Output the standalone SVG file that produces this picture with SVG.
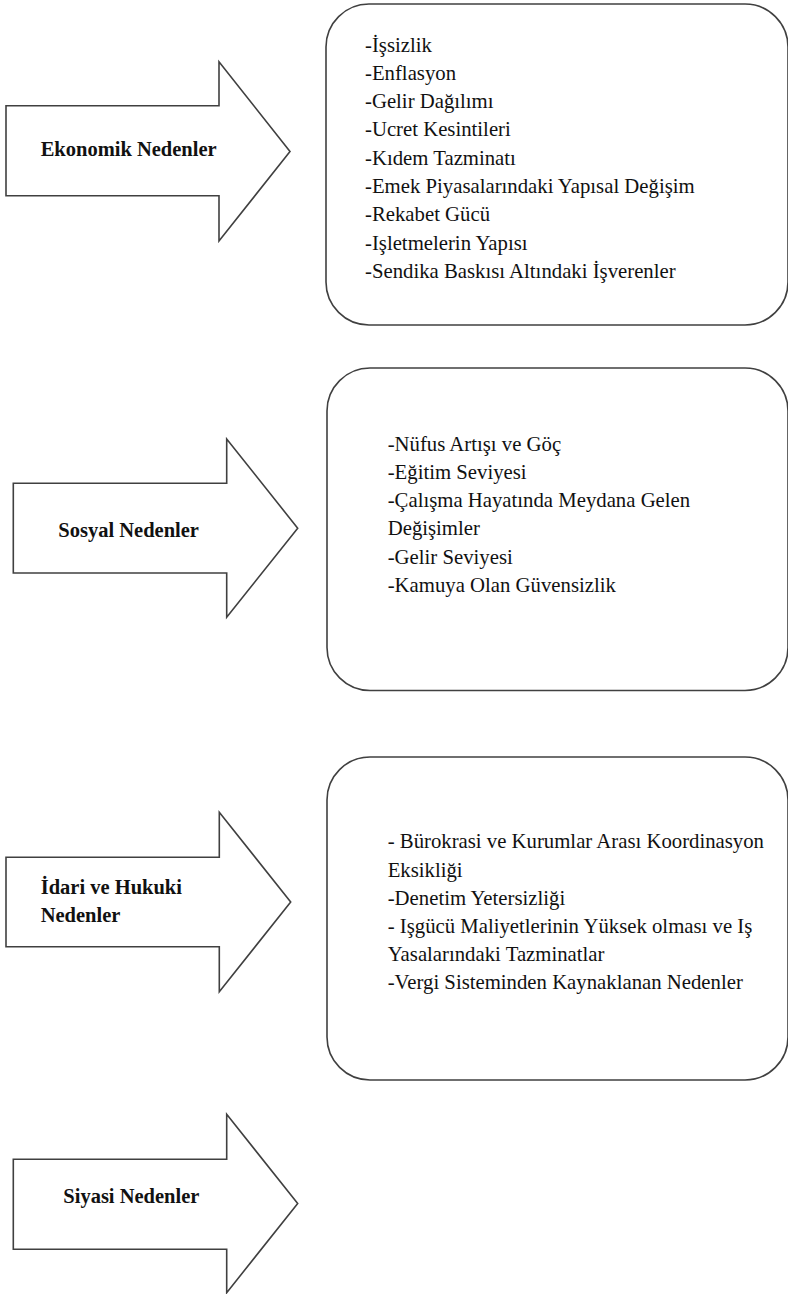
<svg xmlns="http://www.w3.org/2000/svg" width="788" height="1294" viewBox="0 0 788 1294">
<style>
.shape{fill:#fff;stroke:#404040;stroke-width:1.6;stroke-linejoin:miter}
.box{fill:#fff;stroke:#404040;stroke-width:1.6}
.lbl{font-family:'Liberation Serif','DejaVu Serif',serif;font-size:20.5px;font-weight:bold;fill:#111}
.item{font-family:'Liberation Serif','DejaVu Serif',serif;font-size:20.75px;fill:#111}
</style>
<rect width="788" height="1294" fill="#fff"/>
<g id="connectors"/>
<g id="arrow-ekonomik">
<path class="shape" d="M6,105.7 H219 V61.7 L290,151.5 L219,241 V195.7 H6 Z"/>
<text class="lbl" x="40.7" y="156">Ekonomik Nedenler</text>
</g>
<g id="box-ekonomik">
<rect class="box" x="326" y="4" width="462" height="321" rx="43" ry="43"/>
<text class="item" x="365" y="51.5">-İşsizlik</text>
<text class="item" x="365" y="79.8">-Enflasyon</text>
<text class="item" x="365" y="108.1">-Gelir Dağılımı</text>
<text class="item" x="365" y="136.4">-Ucret Kesintileri</text>
<text class="item" x="365" y="164.7">-Kıdem Tazminatı</text>
<text class="item" x="365" y="193">-Emek Piyasalarındaki Yapısal Değişim</text>
<text class="item" x="365" y="221.3">-Rekabet Gücü</text>
<text class="item" x="365" y="249.6">-Işletmelerin Yapısı</text>
<text class="item" x="365" y="277.9">-Sendika Baskısı Altındaki İşverenler</text>
</g>
<g id="arrow-sosyal">
<path class="shape" d="M13.3,483.3 H226.7 V439 L297.7,528.2 L226.7,617.3 V573 H13.3 Z"/>
<text class="lbl" x="58.3" y="536.7">Sosyal Nedenler</text>
</g>
<g id="box-sosyal">
<rect class="box" x="327" y="368" width="461" height="322.5" rx="43" ry="43"/>
<text class="item" x="387.7" y="450.7">-Nüfus Artışı ve Göç</text>
<text class="item" x="387.7" y="478.9">-Eğitim Seviyesi</text>
<text class="item" x="387.7" y="507.1">-Çalışma Hayatında Meydana Gelen</text>
<text class="item" x="387.7" y="535.3">Değişimler</text>
<text class="item" x="387.7" y="563.5">-Gelir Seviyesi</text>
<text class="item" x="387.7" y="591.7">-Kamuya Olan Güvensizlik</text>
</g>
<g id="arrow-idari">
<path class="shape" d="M6,857.3 H219.3 V812.3 L290.7,902 L219.3,991.7 V946.7 H6 Z"/>
<text class="lbl" x="40.7" y="894.3">İdari ve Hukuki</text>
<text class="lbl" x="40.7" y="921.7">Nedenler</text>
</g>
<g id="box-idari">
<rect class="box" x="327" y="757" width="461" height="323" rx="43" ry="43"/>
<text class="item" x="387.7" y="848.3">- Bürokrasi ve Kurumlar Arası Koordinasyon</text>
<text class="item" x="387.7" y="876.5">Eksikliği</text>
<text class="item" x="387.7" y="904.7">-Denetim Yetersizliği</text>
<text class="item" x="387.7" y="932.9">- Işgücü Maliyetlerinin Yüksek olması ve Iş</text>
<text class="item" x="387.7" y="961.1">Yasalarındaki Tazminatlar</text>
<text class="item" x="387.7" y="989.3">-Vergi Sisteminden Kaynaklanan Nedenler</text>
</g>
<g id="arrow-siyasi">
<path class="shape" d="M13.3,1159.3 H226.7 V1114.3 L297.7,1203.5 L226.7,1292.7 V1249.3 H13.3 Z"/>
<text class="lbl" x="63.3" y="1203.3">Siyasi Nedenler</text>
</g>
</svg>
